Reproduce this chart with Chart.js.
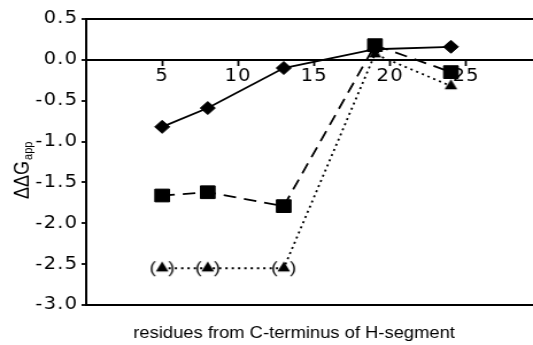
<!DOCTYPE html>
<html>
<head>
<meta charset="utf-8">
<script src="https://cdn.jsdelivr.net/npm/chart.js@4.4.0/dist/chart.umd.min.js"></script>
<style>
  html, body { margin: 0; padding: 0; background: #fff; }
  #chart { display: block; }
</style>
</head>
<body>
<!-- drawn narrower and stretched sideways, like the original figure -->
<canvas id="chart" width="464" height="345" style="width:533px;height:345px"></canvas>
<script>
// residue positions, shared by the three series
const residues = [5, 8, 13, 19, 24];
const diamondDG = [-0.82, -0.59, -0.10, 0.13, 0.16];
const squareDG = [-1.66, -1.62, -1.79, 0.18, -0.15];
const triangleDG = [-2.55, -2.55, -2.55, 0.07, -0.32];
const triangleBracketed = [true, true, true, false, false];
const xTickValues = [5, 10, 15, 20, 25];
const yFramed = [0.5, 0, -3];
const xTitle = 'residues from C-terminus of H-segment';
const yTitle = 'ΔΔG';
const yTitleSub = 'app';

function makeTriangle(bracketed) {
    const c = document.createElement('canvas');
    c.width = 22;
    c.height = 22;
    const g = c.getContext('2d');
    const cx = 11, cy = 11, w = 11, h = 10;
    g.fillStyle = '#000';
    g.beginPath();
    g.moveTo(cx, cy - h * 2 / 3);
    g.lineTo(cx + w / 2, cy + h / 3);
    g.lineTo(cx - w / 2, cy + h / 3);
    g.closePath();
    g.fill();
    if (bracketed) {
        g.font = '17px "Liberation Sans"';
        g.textBaseline = 'middle';
        g.textAlign = 'left';
        g.fillText('(', 0, cy);
        g.textAlign = 'right';
        g.fillText(')', 22, cy);
    }
    return c;
}
const triPlain = makeTriangle(false);
const triBracket = makeTriangle(true);

const toPoints = ys => residues.map((x, i) => ({ x: x, y: ys[i] }));

const axisTitles = {
    id: 'axisTitles',
    beforeDraw(chart) {
        // the tick labels of the original are a little wider set
        chart.ctx.letterSpacing = '1px';
    },
    beforeDatasetsDraw(chart) {
        chart.ctx.letterSpacing = '0px';
    },
    afterDraw(chart) {
        const ctx = chart.ctx;
        ctx.save();
        ctx.fillStyle = '#000';
        ctx.font = '16px "Liberation Sans"';
        ctx.textAlign = 'center';
        ctx.textBaseline = 'alphabetic';
        ctx.fillText(xTitle, 256, 338);
        ctx.translate(24.5, 199);
        ctx.rotate(-Math.PI / 2);
        ctx.textAlign = 'left';
        ctx.font = '18px "Liberation Sans"';
        ctx.fillText(yTitle, 0, 0);
        const w = ctx.measureText(yTitle).width;
        ctx.font = '11px "Liberation Sans"';
        ctx.fillText(yTitleSub, w + 1, 3.5);
        ctx.restore();
    }
};

const tickFont = { family: 'DejaVu Sans', size: 17 };

new Chart(document.getElementById('chart'), {
    type: 'line',
    data: {
        datasets: [
            {
                data: toPoints(squareDG),
                borderColor: '#000',
                backgroundColor: '#000',
                borderWidth: 1.8,
                borderDash: [11, 7],
                pointStyle: 'rect',
                pointRadius: 9,
                pointBorderWidth: 1
            },
            {
                data: toPoints(diamondDG),
                borderColor: '#000',
                backgroundColor: '#000',
                borderWidth: 1.8,
                pointStyle: 'rectRot',
                pointRadius: 6.5,
                pointBorderWidth: 1
            },
            {
                data: toPoints(triangleDG),
                borderColor: '#000',
                backgroundColor: '#000',
                borderWidth: 1.8,
                borderDash: [2, 3.5],
                pointStyle: triangleBracketed.map(b => b ? triBracket : triPlain),
                pointRadius: 6
            }
        ]
    },
    options: {
        responsive: false,
        animation: false,
        devicePixelRatio: 1,
        layout: { autoPadding: false, padding: { top: 19, bottom: 40, left: 0, right: 0 } },
        plugins: {
            legend: { display: false },
            tooltip: { enabled: false }
        },
        scales: {
            x: {
                type: 'linear',
                position: { y: 0 },
                min: 0,
                max: 29.4,
                afterBuildTicks: scale => {
                    scale.ticks = xTickValues.map(v => ({ value: v }));
                },
                afterFit: scale => {
                    scale.paddingLeft = 0;
                    scale.paddingRight = 0;
                },
                grid: { drawOnChartArea: false, tickLength: 5, tickWidth: 1.8, tickColor: '#000' },
                border: { color: '#000', width: 2 },
                ticks: { color: '#000', font: tickFont, padding: 2, autoSkip: false, maxRotation: 0 }
            },
            y: {
                min: -3,
                max: 0.5,
                afterFit: scale => { scale.width = 75; },
                grid: {
                    color: c => yFramed.includes(c.tick.value) ? '#000' : 'rgba(0,0,0,0)',
                    lineWidth: 2,
                    tickColor: '#000',
                    tickWidth: 1.8,
                    tickLength: 4
                },
                border: { color: '#000', width: 2 },
                ticks: {
                    stepSize: 0.5,
                    color: '#000',
                    font: tickFont,
                    padding: 3,
                    callback: v => v.toFixed(1)
                }
            }
        }
    },
    plugins: [axisTitles]
});
</script>
</body>
</html>
